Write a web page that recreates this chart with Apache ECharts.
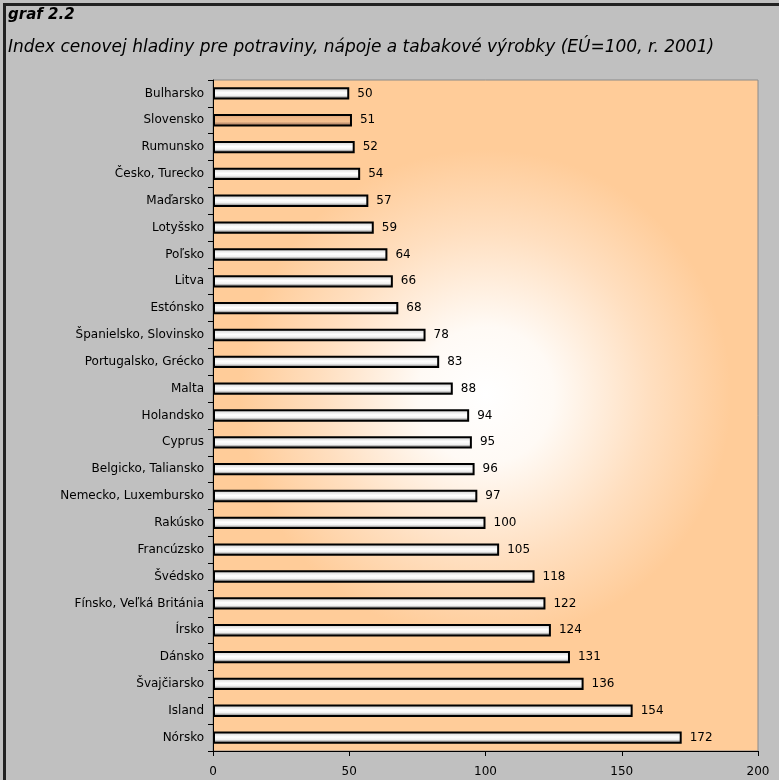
<!DOCTYPE html>
<html>
<head>
<meta charset="utf-8">
<script src="https://cdn.jsdelivr.net/npm/echarts@6/dist/echarts.min.js"></script>
<style>
html,body{margin:0;padding:0;background:#c0c0c0;}
#frame{position:absolute;left:3px;top:3px;width:790px;height:790px;border-left:3px solid #222;border-top:3px solid #222;}
#chart{position:absolute;left:0;top:0;width:779px;height:780px;}
</style>
</head>
<body>
<div id="frame"></div>
<div id="chart"></div>
<script>
const categories = ["Bulharsko","Slovensko","Rumunsko","Česko, Turecko","Maďarsko","Lotyšsko","Poľsko","Litva","Estónsko","Španielsko, Slovinsko","Portugalsko, Grécko","Malta","Holandsko","Cyprus","Belgicko, Taliansko","Nemecko, Luxembursko","Rakúsko","Francúzsko","Švédsko","Fínsko, Veľká Británia","Írsko","Dánsko","Švajčiarsko","Island","Nórsko"];
const values = [50,51,52,54,57,59,64,66,68,78,83,88,94,95,96,97,100,105,118,122,124,131,136,154,172];
const highlight = "Slovensko";
const xTicks = [0,50,100,150,200];

const FONT = "DejaVu Sans";
const greyBar = new echarts.graphic.LinearGradient(0,0,0,1,[
  {offset:0,color:'#a8a8a8'},{offset:0.22,color:'#e4e4e4'},{offset:0.45,color:'#ffffff'},
  {offset:0.68,color:'#f0f0f0'},{offset:0.78,color:'#b0b0b0'},{offset:1,color:'#8c8c8c'}]);
const orangeBar = new echarts.graphic.LinearGradient(0,0,0,1,[
  {offset:0,color:'#d0a078'},{offset:0.3,color:'#f0b888'},{offset:0.6,color:'#f4c090'},
  {offset:0.78,color:'#c09070'},{offset:1,color:'#a07858'}]);

const chart = echarts.init(document.getElementById('chart'), null, {renderer:'canvas'});
chart.setOption({
  backgroundColor: 'transparent',
  animation: false,
  title: {
    text: 'graf 2.2',
    subtext: 'Index cenovej hladiny pre potraviny, nápoje a tabakové výrobky (EÚ=100, r. 2001)',
    left: 3, top: 3, itemGap: 16,
    textStyle: {fontFamily: FONT, fontSize: 15, fontWeight: 'bold', fontStyle: 'italic', color: '#000'},
    subtextStyle: {fontFamily: FONT, fontSize: 17, fontStyle: 'italic', color: '#000'}
  },
  grid: {
    left: 213, right: 21, top: 80, bottom: 29, containLabel: false,
    show: true, borderColor: '#8a8a8a', borderWidth: 1,
    backgroundColor: {type:'radial', x:0.5, y:0.47, r:0.5, colorStops:[
      {offset:0,color:'#ffffff'},{offset:0.25,color:'#fffaf5'},{offset:0.6,color:'#ffdfc0'},{offset:0.9,color:'#ffcc99'},{offset:1,color:'#ffcc99'}]}
  },
  xAxis: {
    type: 'value', min: xTicks[0], max: xTicks[xTicks.length-1], interval: 50,
    axisLine: {show: true, lineStyle: {color: '#000'}},
    axisTick: {show: true, length: 5, lineStyle: {color: '#000'}},
    splitLine: {show: false},
    axisLabel: {fontFamily: FONT, fontSize: 12, color: '#000', margin: 15}
  },
  yAxis: {
    type: 'category', data: categories, inverse: true,
    axisLine: {show: true, lineStyle: {color: '#000'}},
    axisTick: {show: true, length: 5, lineStyle: {color: '#000'}},
    axisLabel: {fontFamily: FONT, fontSize: 12, color: '#000', margin: 9}
  },
  series: [{
    type: 'bar',
    data: values.map((v,i) => ({value: v, itemStyle: {color: categories[i] === highlight ? orangeBar : greyBar}})),
    barCategoryGap: '54%',
    itemStyle: {borderColor: '#000', borderWidth: 2},
    label: {show: true, position: 'right', distance: 8, fontFamily: FONT, fontSize: 12, color: '#000'}
  }]
});
</script>
</body>
</html>
